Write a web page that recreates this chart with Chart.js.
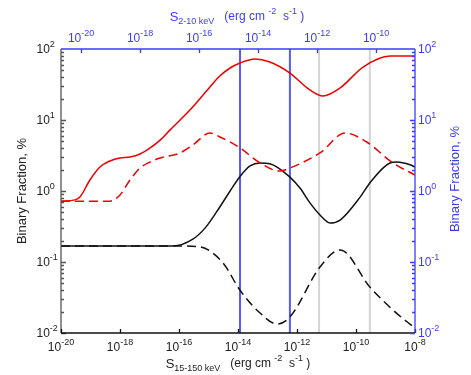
<!DOCTYPE html>
<html>
<head>
<meta charset="utf-8">
<script src="https://cdn.jsdelivr.net/npm/chart.js@4.4.0/dist/chart.umd.min.js"></script>
<style>
body{margin:0;background:#fff;}
</style>
</head>
<body>
<canvas id="myChart" width="471" height="375"></canvas>
<script>
// flux (erg cm-2 s-1) and binary fraction (%)
var redSolidX = [1e-20, 2.97e-20, 4.37e-20, 9.55e-20, 2.09e-19, 4.57e-19, 1e-18, 2.19e-18, 4.79e-18, 1.05e-17, 2.29e-17, 4.9e-17, 2.34e-16, 1.12e-15, 2.45e-15, 5.4e-15, 1.17e-14, 3.8e-14, 1.2e-13, 5.75e-13, 2.75e-12, 7.6e-12, 2.9e-11, 1.74e-10, 1.41e-9, 1e-8];
var redSolidY = [0.72, 0.75, 0.82, 1.43, 2.18, 2.65, 2.92, 3.01, 3.32, 4.04, 5.2, 7.2, 13.8, 29.2, 42, 54, 63.5, 72.3, 65.6, 45.9, 26.5, 21.8, 28.3, 55.7, 79.6, 79.6];

var redDashX = [1e-20, 4.57e-19, 1.0e-18, 2.19e-18, 4.79e-18, 1.05e-17, 2.29e-17, 1.07e-16, 2.95e-16, 1.12e-15, 2.45e-15, 1.17e-14, 5.6e-14, 2.63e-13, 5.75e-13, 6.0e-12, 4.3e-11, 2.3e-10, 1.78e-9, 1e-8];
var redDashY = [0.72, 0.72, 0.88, 1.43, 2.11, 2.56, 2.92, 3.43, 4.45, 6.56, 5.77, 4.04, 2.48, 1.91, 2.11, 3.43, 6.56, 4.9, 2.48, 1.68];

var blackSolidX = [1e-20, 1.05e-17, 6.3e-17, 2.95e-16, 7.6e-16, 1.95e-15, 5.4e-15, 1.17e-14, 2.57e-14, 5.6e-14, 1.2e-13, 5.75e-13, 1.26e-12, 2.75e-12, 6.0e-12, 1.32e-11, 2.9e-11, 1.38e-10, 2.95e-10, 1.41e-9, 2.45e-9, 6.8e-9, 1e-8];
var blackSolidY = [0.168, 0.168, 0.168, 0.21, 0.30, 0.52, 1.0, 1.6, 2.25, 2.48, 2.42, 1.57, 1.10, 0.68, 0.46, 0.354, 0.39, 0.82, 1.30, 2.48, 2.56, 2.34, 2.18];

var blackDashX = [1e-20, 1.07e-16, 5.13e-16, 3.1e-15, 1.17e-14, 5.6e-14, 2.1e-13, 5.75e-13, 6.0e-12, 2.9e-11, 2.95e-10, 1.78e-9, 1e-8];
var blackDashY = [0.168, 0.168, 0.163, 0.097, 0.040, 0.0191, 0.0134, 0.0168, 0.085, 0.148, 0.0445, 0.0211, 0.0117];

var blueLinesX = [1.17e-14, 5.75e-13];
var grayLinesX = [5.6e-12, 2.95e-10];

// tick labels (powers of ten)
var bottomTickExp = [-20, -18, -16, -14, -12, -10, -8];
var topTickExp = [-20, -18, -16, -14, -12, -10];
var yTickExp = [-2, -1, 0, 1, 2];

var BLUE = '#3b3bff';
var FONT = '"Liberation Sans", Arial, sans-serif';

function pts(xs, ys) {
	var out = [];
	for (var i = 0; i < xs.length; i++) out.push({x: xs[i], y: ys[i]});
	return out;
}

function curve(xs, ys, color, dash) {
	return {
		data: pts(xs, ys),
		borderColor: color,
		borderWidth: 1.5,
		borderDash: dash,
		pointRadius: 0,
		fill: false,
		cubicInterpolationMode: 'monotone'
	};
}

function vline(x, color) {
	return {
		data: [{x: x, y: 0.01}, {x: x, y: 100}],
		borderColor: color,
		borderWidth: 2,
		pointRadius: 0,
		tension: 0
	};
}

// draw text made of pieces [text, size, dy]
function drawParts(ctx, parts, x, y, align, color) {
	var w = 0, i;
	for (i = 0; i < parts.length; i++) {
		ctx.font = parts[i][1] + 'px ' + FONT;
		w += ctx.measureText(parts[i][0]).width;
	}
	var sx = x;
	if (align == 'center') sx = x - w / 2;
	if (align == 'right') sx = x - w;
	ctx.textAlign = 'left';
	ctx.textBaseline = 'middle';
	ctx.fillStyle = color;
	for (i = 0; i < parts.length; i++) {
		ctx.font = parts[i][1] + 'px ' + FONT;
		ctx.fillText(parts[i][0], sx, y + parts[i][2]);
		sx += ctx.measureText(parts[i][0]).width;
	}
}

function pow10(e) {
	return [['10', 12, 0], [String(e), 9, -5]];
}

var axesPlugin = {
	id: 'axesPlugin',
	afterDatasetsDraw: function(chart) {
		var ctx = chart.ctx;
		var a = chart.chartArea;
		var x = chart.scales.x, x2 = chart.scales.x2, y = chart.scales.y, y2 = chart.scales.y2;
		var i, k, p;
		ctx.save();
		ctx.lineWidth = 1.3;

		// left axis
		ctx.strokeStyle = '#555';
		ctx.beginPath();
		ctx.moveTo(a.left, a.top); ctx.lineTo(a.left, a.bottom);
		for (i = -2; i < 2; i++) {
			for (k = 1; k < 10; k++) {
				p = Math.round(y.getPixelForValue(k * Math.pow(10, i))) + 0.5;
				ctx.moveTo(a.left, p); ctx.lineTo(a.left + (k == 1 ? 5 : 3), p);
			}
		}
		ctx.stroke();

		// bottom axis
		ctx.strokeStyle = '#111';
		ctx.beginPath();
		ctx.moveTo(a.left, a.bottom); ctx.lineTo(a.right, a.bottom);
		for (i = 0; i < bottomTickExp.length; i++) {
			p = Math.round(x.getPixelForValue(Math.pow(10, bottomTickExp[i]))) + 0.5;
			ctx.moveTo(p, a.bottom); ctx.lineTo(p, a.bottom - 4);
		}
		ctx.stroke();

		// right axis
		ctx.strokeStyle = BLUE;
		ctx.beginPath();
		ctx.moveTo(a.right, a.top); ctx.lineTo(a.right, a.bottom);
		for (i = -2; i < 2; i++) {
			for (k = 1; k < 10; k++) {
				p = Math.round(y2.getPixelForValue(k * Math.pow(10, i))) + 0.5;
				ctx.moveTo(a.right, p); ctx.lineTo(a.right - (k == 1 ? 5 : 3), p);
			}
		}
		// top axis
		ctx.moveTo(a.left, a.top); ctx.lineTo(a.right, a.top);
		for (i = 0; i < topTickExp.length; i++) {
			p = Math.round(x2.getPixelForValue(Math.pow(10, topTickExp[i]))) + 0.5;
			ctx.moveTo(p, a.top); ctx.lineTo(p, a.top + 4);
		}
		ctx.stroke();

		// tick labels
		for (i = 0; i < yTickExp.length; i++) {
			p = y.getPixelForValue(Math.pow(10, yTickExp[i]));
			drawParts(ctx, pow10(yTickExp[i]), 36.5, p + 1, 'left', '#222');
			p = y2.getPixelForValue(Math.pow(10, yTickExp[i]));
			drawParts(ctx, pow10(yTickExp[i]), 418, p + 1, 'left', BLUE);
		}
		for (i = 0; i < bottomTickExp.length; i++) {
			p = x.getPixelForValue(Math.pow(10, bottomTickExp[i]));
			drawParts(ctx, pow10(bottomTickExp[i]), p, 348, 'center', '#222');
		}
		for (i = 0; i < topTickExp.length; i++) {
			p = x2.getPixelForValue(Math.pow(10, topTickExp[i]));
			drawParts(ctx, pow10(topTickExp[i]), p, 38.5, 'center', BLUE);
		}

		// axis titles
		drawParts(ctx, [['S', 13, 0], ['15-150 keV', 9, 5], ['   (erg cm ', 12, 0], ['-2', 9, -5], ['  s', 12, 0], ['-1', 9, -5], [' )', 12, 0]], 238, 364, 'center', '#222');
		drawParts(ctx, [['S', 13, 0], ['2-10 keV', 9, 5], ['   (erg cm ', 12, 0], ['-2', 9, -5], ['  s', 12, 0], ['-1', 9, -5], [' )', 12, 0]], 237, 17, 'center', BLUE);

		ctx.save();
		ctx.translate(22, 191);
		ctx.rotate(-Math.PI / 2);
		drawParts(ctx, [['Binary Fraction, %', 13, 0]], 0, 0, 'center', '#222');
		ctx.restore();
		ctx.save();
		ctx.translate(455, 179);
		ctx.rotate(-Math.PI / 2);
		drawParts(ctx, [['Binary Fraction, %', 13, 0]], 0, 0, 'center', BLUE);
		ctx.restore();

		ctx.restore();
	}
};

var datasets = [
	curve(redSolidX, redSolidY, '#ee0000', []),
	curve(redDashX, redDashY, '#ee0000', [9, 5]),
	curve(blackSolidX, blackSolidY, '#111', []),
	curve(blackDashX, blackDashY, '#111', [9, 5])
];
for (var b = 0; b < blueLinesX.length; b++) datasets.push(vline(blueLinesX[b], 'rgba(70,70,255,0.9)'));
for (var g = 0; g < grayLinesX.length; g++) datasets.push(vline(grayLinesX[g], '#d4d4d4'));

var ctx = document.getElementById('myChart');
var chart = new Chart(ctx, {
	type: 'line',
	data: {datasets: datasets},
	options: {
		responsive: false,
		animation: false,
		layout: {padding: {left: 61, right: 56, top: 49, bottom: 42}},
		plugins: {legend: {display: false}, tooltip: {enabled: false}},
		scales: {
			x: {type: 'logarithmic', position: 'bottom', min: 1e-20, max: 1e-8, display: false},
			x2: {type: 'logarithmic', position: 'top', min: Math.pow(10, -20.68), max: Math.pow(10, -8.68), display: false},
			y: {type: 'logarithmic', position: 'left', min: 0.01, max: 100, display: false},
			y2: {type: 'logarithmic', position: 'right', min: 0.01, max: 100, display: false}
		}
	},
	plugins: [axesPlugin]
});
</script>
</body>
</html>
